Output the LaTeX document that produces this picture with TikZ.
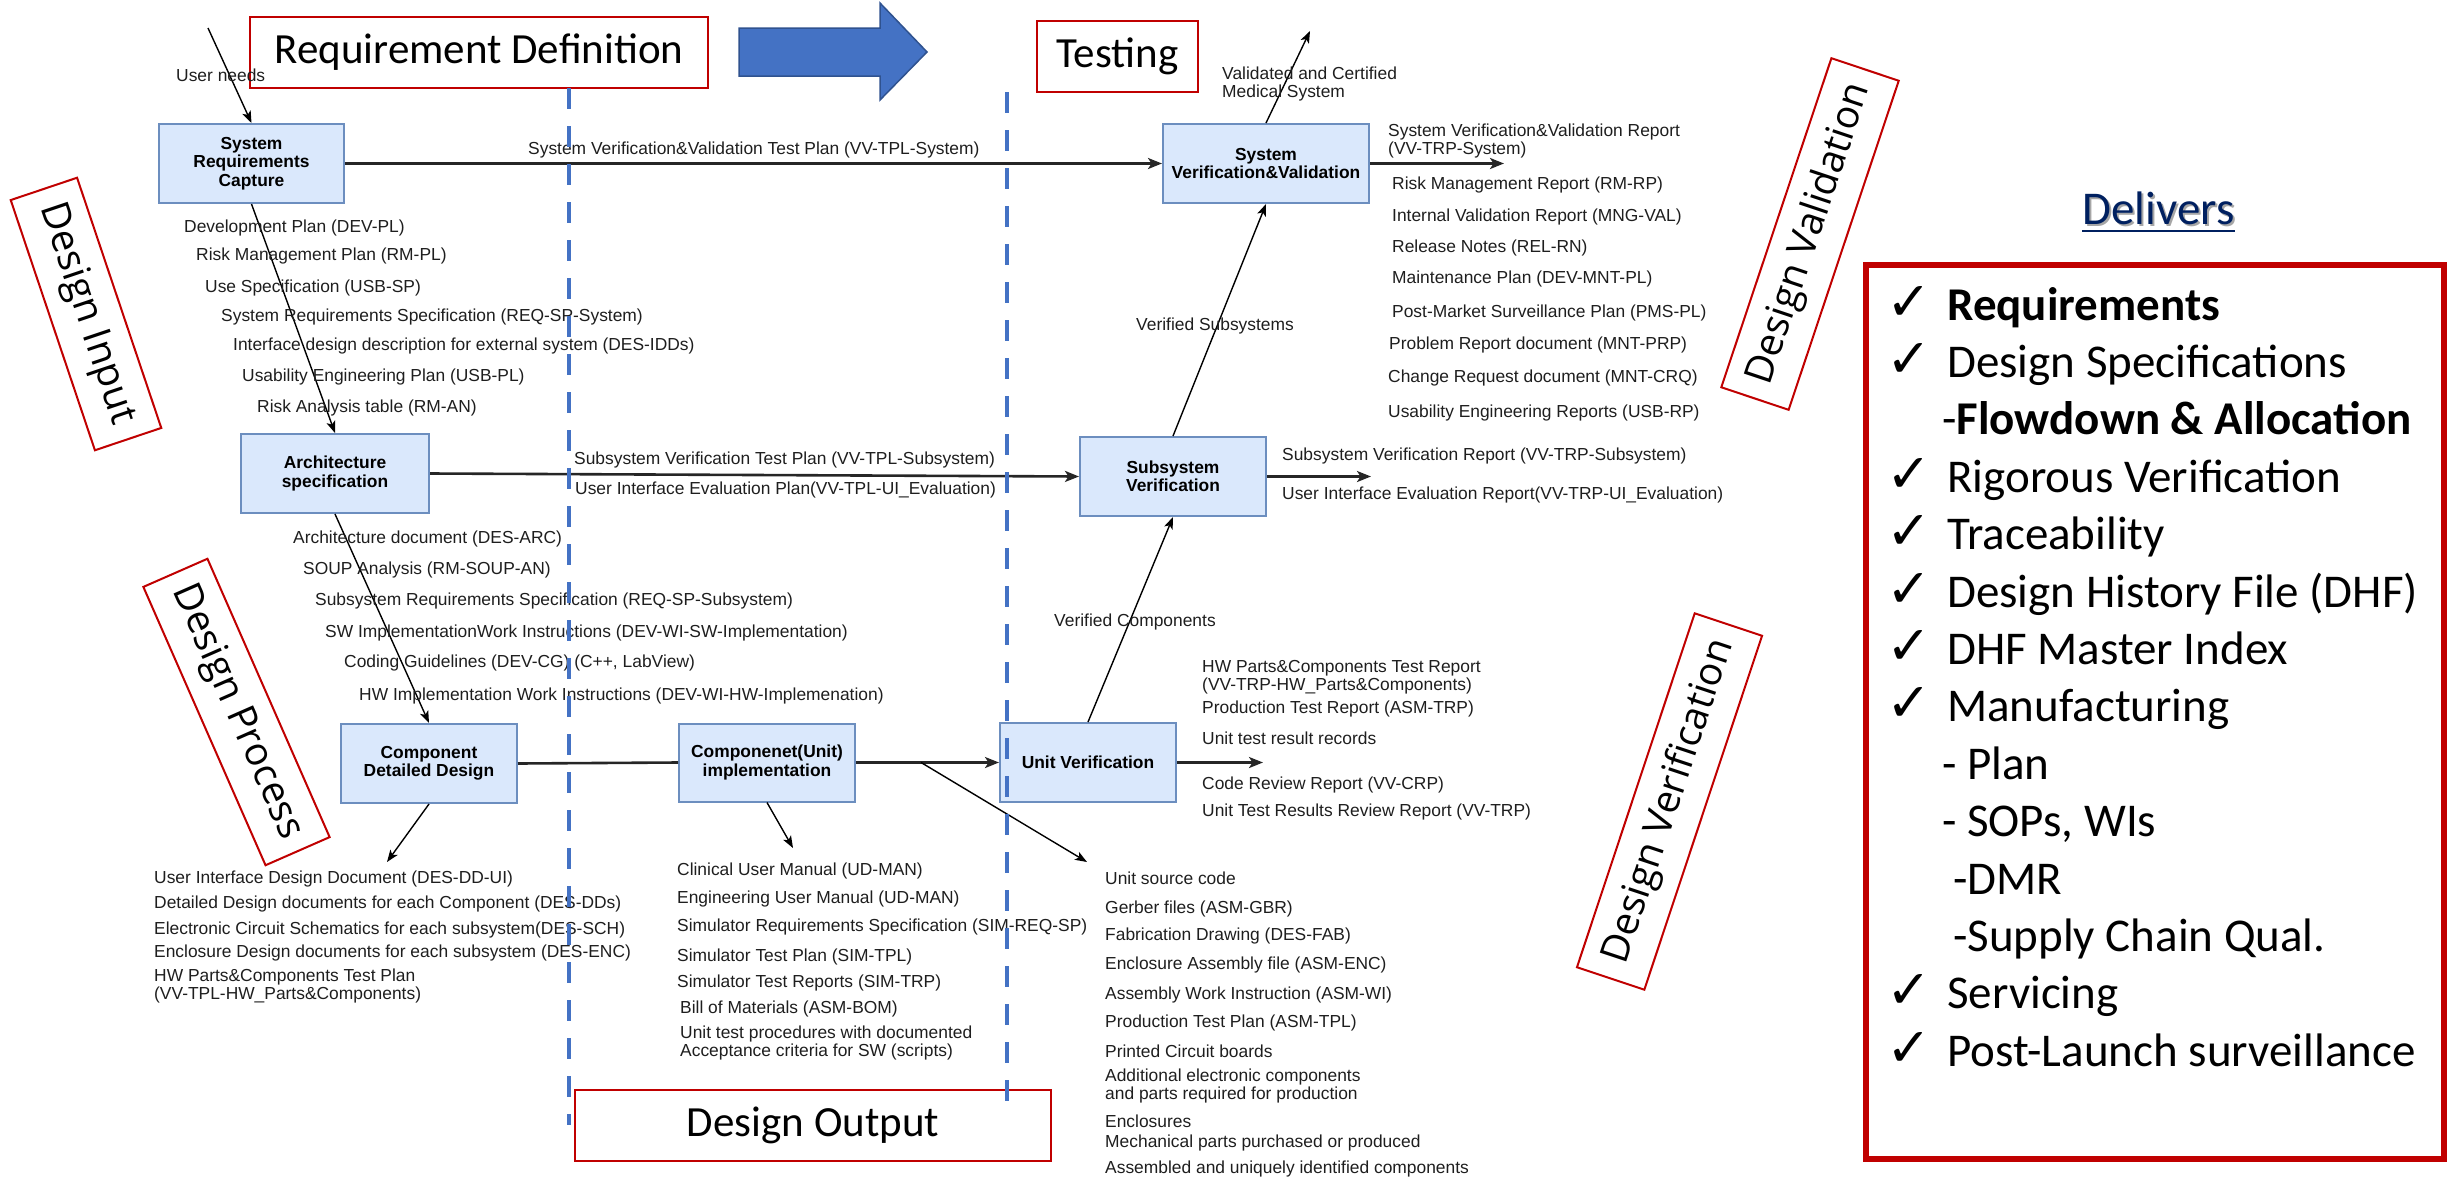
\documentclass[tikz,border=0pt]{standalone}
\usepackage{fontspec}
\setmainfont{Liberation Sans}
\newfontfamily\calfont{Carlito}
\newfontfamily\phasefont{Open Sans}
\newfontfamily\tickfont{DejaVu Sans}
\usetikzlibrary{arrows.meta,calc}

\definecolor{boxfill}{HTML}{DAE8FC}
\definecolor{boxline}{HTML}{6C8EBF}
\definecolor{stagered}{HTML}{C00000}
\definecolor{phaseblue}{HTML}{4472C4}
\definecolor{phaseedge}{HTML}{2F528F}
\definecolor{delivblue}{HTML}{002060}
\definecolor{txt}{HTML}{1E1E1E}

\begin{document}
\begin{tikzpicture}[x=1pt,y=-1pt,
  doc/.style={font=\fontsize{17.4}{18.3}\selectfont, text=txt, inner sep=0pt, anchor=west, align=left},
  proc/.style={draw=boxline, fill=boxfill, line width=2pt, font=\fontsize{17.4}{18.3}\selectfont\bfseries, text=black, inner sep=0pt, align=center},
  stage/.style={draw=stagered, line width=2.5pt, fill=white, font=\calfont\fontsize{43}{50}\selectfont, inner sep=0pt},
  phase/.style={draw=stagered, line width=2pt, fill=white, font=\phasefont\fontsize{39}{44}\selectfont, inner sep=0pt},
  flow/.style={line width=1.4pt, -{Stealth[length=12pt,width=9pt,inset=3pt]}},
  bus/.style={line width=2.6pt, draw=black!85, -{Stealth[length=14pt,width=11pt,inset=3.5pt]}},
  plain/.style={line width=2.6pt, draw=black!85},
  lane/.style={draw=phaseblue, line width=4.5pt, dash pattern=on 21pt off 17pt},
  tick/.style={font=\tickfont\fontsize{54}{60}\selectfont, inner sep=0pt, anchor=base west},
  deliv/.style={font=\calfont\fontsize{47}{52}\selectfont, inner sep=0pt, anchor=base west}
]
\useasboundingbox (0,0) rectangle (2447,1178);

% ---- phase headers ----
\node[stage, minimum width=458pt, minimum height=71pt] (reqdef) at (479,52.5) {Requirement Definition};
\node[stage, minimum width=161pt, minimum height=71pt] (testing) at (1117.5,56.5) {Testing};
\node[stage, minimum width=476pt, minimum height=71pt] (dout) at (813,1125.5) {Design Output};
\fill[phaseblue, draw=phaseedge, line width=1.5pt] (739,28) -- (880,28) -- (880,3) -- (927,52) -- (880,100) -- (880,76) -- (739,76) -- cycle;

% ---- slanted phase labels ----
\node[phase, rotate=-71.4, minimum width=264pt, minimum height=70pt] (din) at (86,314) {Design Input};
\node[phase, rotate=-66.3, minimum width=304pt, minimum height=70pt] (dproc) at (236.5,712) {Design Process};
\node[phase, rotate=71.5, minimum width=347pt, minimum height=71pt] (dval) at (1810,234) {Design Validation};
\node[phase, rotate=71.6, minimum width=373pt, minimum height=71pt] (dver) at (1669.5,801.5) {Design Verification};

% ---- process blocks ----
\node[proc, minimum width=185pt, minimum height=79pt] (src) at (251.5,163.5) {System\\Requirements\\Capture};
\node[proc, minimum width=188pt, minimum height=79pt] (arch) at (335,473.5) {Architecture\\specification};
\node[proc, minimum width=176pt, minimum height=79pt] (cdd) at (429,763.5) {Component\\Detailed Design};
\node[proc, minimum width=176pt, minimum height=78pt] (impl) at (767,762.5) {Componenet(Unit)\\implementation};
\node[proc, minimum width=176pt, minimum height=79pt] (uv) at (1088,762.5) {Unit Verification};
\node[proc, minimum width=186pt, minimum height=79pt] (ssv) at (1173,476.5) {Subsystem\\Verification};
\node[proc, minimum width=206pt, minimum height=79pt] (svv) at (1266,163.5) {System\\Verification\&Validation};

% ---- free connector ends ----
\coordinate (needs) at (208,28);
\coordinate (cddout) at (387,862);
\coordinate (implout) at (793,848);
\coordinate (unitout) at (1087,862);
\coordinate (uvout) at (1263,762.5);
\coordinate (ssvout) at (1371,476.5);
\coordinate (svvout) at (1504,163.5);
\coordinate (release) at (1310,31);

% ---- connectors ----
\draw[flow] (needs) -- (src.north);
\draw[flow] (src.south) -- (arch.north);
\draw[flow] (arch.south) -- (cdd.north);
\draw[flow] (cdd.south) -- (cddout);
\draw[plain] (cdd.east) -- (impl.west);
\draw[bus] (impl.east) -- coordinate[pos=0.455] (fork) (uv.west);
\draw[flow] (fork) -- (unitout);
\draw[flow] (impl.south) -- (implout);
\draw[bus] (uv.east) -- (uvout);
\draw[flow] (uv.north) -- (ssv.south);
\draw[bus] (arch.east) -- (ssv.west);
\draw[bus] (ssv.east) -- (ssvout);
\draw[flow] (ssv.north) -- (svv.south);
\draw[bus] (src.east) -- (svv.west);
\draw[flow] (svv.north) -- (release);
\draw[bus] (svv.east) -- (svvout);

% ---- connector labels ----
\node[doc] (l-needs) at (176,75) {User needs};
\node[doc] (l-sysplan) at (528,150) {System Verification\&Validation Test Plan (VV-TPL-System)};
\node[doc] (l-subplan) at (574,460) {Subsystem Verification Test Plan (VV-TPL-Subsystem)};
\node[doc] (l-uiplan) at (575,490) {User Interface Evaluation Plan(VV-TPL-UI\_Evaluation)};
\node[doc] (l-vsub) at (1136,326) {Verified Subsystems};
\node[doc] (l-vcomp) at (1054,622) {Verified Components};
\node[doc] (l-valid) at (1222,84) {Validated and Certified\\Medical System};

% ---- design input documents ----
\node[doc] (di1) at (184,228) {Development Plan (DEV-PL)};
\node[doc] (di2) at (196,256) {Risk Management Plan (RM-PL)};
\node[doc] (di3) at (205,288) {Use Specification (USB-SP)};
\node[doc] (di4) at (221,317) {System Requirements Specification (REQ-SP-System)};
\node[doc] (di5) at (233,346) {Interface design description for external system (DES-IDDs)};
\node[doc] (di6) at (242,377) {Usability Engineering Plan (USB-PL)};
\node[doc] (di7) at (257,408) {Risk Analysis table (RM-AN)};

% ---- architecture documents ----
\node[doc] (ad1) at (293,539) {Architecture document (DES-ARC)};
\node[doc] (ad2) at (303,570) {SOUP Analysis (RM-SOUP-AN)};
\node[doc] (ad3) at (315,601) {Subsystem Requirements Specification (REQ-SP-Subsystem)};
\node[doc] (ad4) at (325,633) {SW ImplementationWork Instructions (DEV-WI-SW-Implementation)};
\node[doc] (ad5) at (344,663) {Coding Guidelines (DEV-CG) (C++, LabView)};
\node[doc] (ad6) at (359,696) {HW Implementation Work Instructions (DEV-WI-HW-Implemenation)};

% ---- detailed design documents ----
\node[doc] (dd1) at (154,879) {User Interface Design Document (DES-DD-UI)};
\node[doc] (dd2) at (154,904) {Detailed Design documents for each Component (DES-DDs)};
\node[doc] (dd3) at (154,930) {Electronic Circuit Schematics for each subsystem(DES-SCH)};
\node[doc] (dd4) at (154,953) {Enclosure Design documents for each subsystem (DES-ENC)};
\node[doc] (dd5) at (154,986) {HW Parts\&Components Test Plan\\(VV-TPL-HW\_Parts\&Components)};

% ---- implementation documents ----
\node[doc] (im1) at (677,871) {Clinical User Manual (UD-MAN)};
\node[doc] (im2) at (677,899) {Engineering User Manual (UD-MAN)};
\node[doc] (im3) at (677,927) {Simulator Requirements Specification (SIM-REQ-SP)};
\node[doc] (im4) at (677,957) {Simulator Test Plan (SIM-TPL)};
\node[doc] (im5) at (677,983) {Simulator Test Reports (SIM-TRP)};
\node[doc] (im6) at (680,1009) {Bill of Materials (ASM-BOM)};
\node[doc] (im7) at (680,1043) {Unit test procedures with documented\\Acceptance criteria for SW (scripts)};

% ---- unit deliverables ----
\node[doc] (us1) at (1105,878) {Unit source code};
\node[doc] (us2) at (1105,909) {Gerber files (ASM-GBR)};
\node[doc] (us3) at (1105,936) {Fabrication Drawing (DES-FAB)};
\node[doc] (us4) at (1105,965) {Enclosure Assembly file (ASM-ENC)};
\node[doc] (us5) at (1105,995) {Assembly Work Instruction (ASM-WI)};
\node[doc] (us6) at (1105,1023) {Production Test Plan (ASM-TPL)};
\node[doc] (us7) at (1105,1051) {Printed Circuit boards};
\node[doc] (us8) at (1105,1086) {Additional electronic components\\and parts required for production};
\node[doc] (us9) at (1105,1121) {Enclosures};
\node[doc] (us10) at (1105,1143) {Mechanical parts purchased or produced};
\node[doc] (us11) at (1105,1169) {Assembled and uniquely identified components};

% ---- unit verification reports ----
\node[doc] (uvr1) at (1202,677) {HW Parts\&Components Test Report\\(VV-TRP-HW\_Parts\&Components)};
\node[doc] (uvr2) at (1202,709) {Production Test Report (ASM-TRP)};
\node[doc] (uvr3) at (1202,738) {Unit test result records};
\node[doc] (uvr4) at (1202,785) {Code Review Report (VV-CRP)};
\node[doc] (uvr5) at (1202,812) {Unit Test Results Review Report (VV-TRP)};

% ---- subsystem verification reports ----
\node[doc] (ssr1) at (1282,456) {Subsystem Verification Report (VV-TRP-Subsystem)};
\node[doc] (ssr2) at (1282,495) {User Interface Evaluation Report(VV-TRP-UI\_Evaluation)};

% ---- system validation reports ----
\node[doc] (sv1) at (1388,141) {System Verification\&Validation Report\\(VV-TRP-System)};
\node[doc] (sv2) at (1392,185) {Risk Management Report (RM-RP)};
\node[doc] (sv3) at (1392,217) {Internal Validation Report (MNG-VAL)};
\node[doc] (sv4) at (1392,248) {Release Notes (REL-RN)};
\node[doc] (sv5) at (1392,279) {Maintenance Plan (DEV-MNT-PL)};
\node[doc] (sv6) at (1392,313) {Post-Market Surveillance Plan (PMS-PL)};
\node[doc] (sv7) at (1389,345) {Problem Report document (MNT-PRP)};
\node[doc] (sv8) at (1388,378) {Change Request document (MNT-CRQ)};
\node[doc] (sv9) at (1388,413) {Usability Engineering Reports (USB-RP)};

% ---- lane separators ----
\draw[lane] (569,88) -- (569,1125);
\draw[lane] (1007,92) -- (1007,1112);

% ---- deliverables panel ----
\node[deliv, anchor=base, text=black!35] (delshadow) at (2160.5,226.5) {Delivers};
\node[deliv, anchor=base, text=delivblue] (delhead) at (2158.5,224) {Delivers};
\draw[delivblue, line width=2.2pt] ([yshift=-7pt]delhead.base west) -- ([yshift=-7pt]delhead.base east);
\node[draw=stagered, line width=5.5pt, minimum width=578pt, minimum height=894pt, inner sep=0pt] (delbox) at (2155,712) {};

\foreach \y in {320,377.4,492.2,549.6,607,664.4,721.8,1008.8,1066.2}
  \node[tick] at (1886,\y) {✓};
\node[deliv] (d1) at (1947,320) {\bfseries Requirements};
\node[deliv] (d2) at (1947,377.4) {Design Specifications};
\node[deliv] (d3) at (1942,434.8) {-\textbf{Flowdown \& Allocation}};
\node[deliv] (d4) at (1947,492.2) {Rigorous Verification};
\node[deliv] (d5) at (1947,549.6) {Traceability};
\node[deliv] (d6) at (1947,607) {Design History File (DHF)};
\node[deliv] (d7) at (1947,664.4) {DHF Master Index};
\node[deliv] (d8) at (1947,721.8) {Manufacturing};
\node[deliv] (d9) at (1942,779.2) {- Plan};
\node[deliv] (d10) at (1942,836.6) {- SOPs, WIs};
\node[deliv] (d11) at (1953,894) {-DMR};
\node[deliv] (d12) at (1953,951.4) {-Supply Chain Qual.};
\node[deliv] (d13) at (1947,1008.8) {Servicing};
\node[deliv] (d14) at (1947,1066.2) {Post-Launch surveillance};
\end{tikzpicture}
\end{document}
